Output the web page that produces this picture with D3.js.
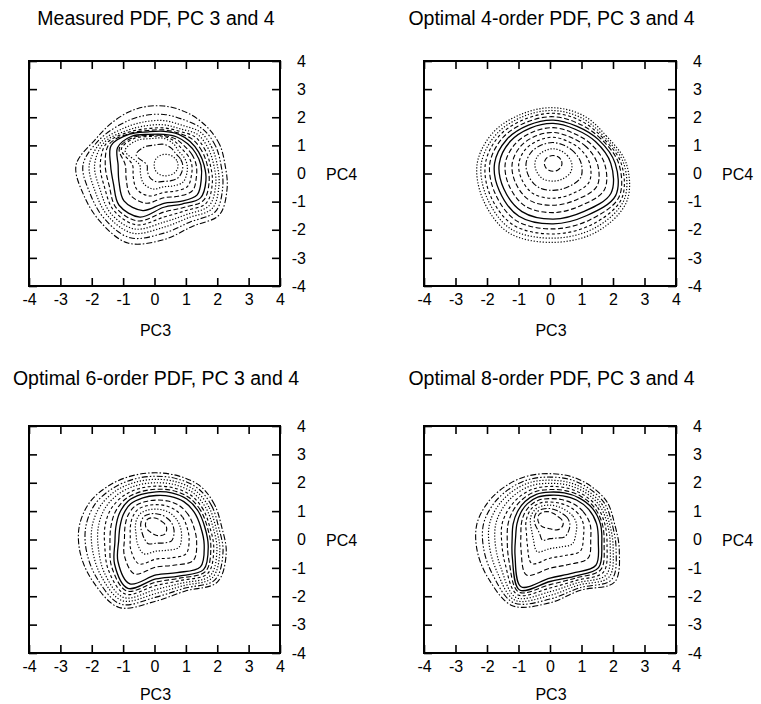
<!DOCTYPE html>
<html>
<head>
<meta charset="utf-8">
<script src="https://cdn.jsdelivr.net/npm/d3@7"></script>
<style>
  body { margin: 0; background: #fff; }
  svg { display: block; }
</style>
</head>
<body>
<svg id="chart" width="761" height="704"></svg>
<script>
// -- Data --
const ticks = [-4, -3, -2, -1, 0, 1, 2, 3, 4];
const titles = [
  "Measured PDF, PC 3 and 4",
  "Optimal 4-order PDF, PC 3 and 4",
  "Optimal 6-order PDF, PC 3 and 4",
  "Optimal 8-order PDF, PC 3 and 4"
];
const xLabel = "PC3";
const yLabel = "PC4";

// Each contour: radii (PC units) on evenly spaced rays around the panel centre,
// listed from the outermost level to the innermost one.
const measuredCenter = [0.3, 0.3];
const measuredStyles = ["dashdot", "dashdot2", "dot", "dot", "short", "dash", "solid", "solid", "dash", "short", "dot", "dashdot", "dot"];
const measuredRadii = [
  [1.95, 1.92, 1.93, 2.00, 2.10, 2.18, 2.23, 2.37, 2.80, 2.77, 2.86, 3.00, 2.65, 2.36, 2.50, 2.18],
  [1.82, 1.78, 1.78, 1.73, 1.80, 1.88, 2.01, 2.26, 2.58, 2.56, 2.69, 2.80, 2.42, 2.19, 2.33, 2.03],
  [1.70, 1.65, 1.65, 1.53, 1.58, 1.66, 1.84, 2.16, 2.38, 2.38, 2.54, 2.62, 2.21, 2.03, 2.18, 1.90],
  [1.59, 1.53, 1.53, 1.39, 1.43, 1.51, 1.72, 2.07, 2.21, 2.21, 2.41, 2.46, 2.03, 1.90, 2.04, 1.79],
  [1.48, 1.42, 1.41, 1.30, 1.32, 1.40, 1.64, 1.99, 2.03, 2.05, 2.27, 2.30, 1.85, 1.76, 1.91, 1.67],
  [1.38, 1.31, 1.29, 1.23, 1.25, 1.33, 1.58, 1.90, 1.87, 1.89, 2.15, 2.15, 1.67, 1.63, 1.78, 1.56],
  [1.28, 1.20, 1.18, 1.19, 1.20, 1.28, 1.55, 1.82, 1.70, 1.74, 2.02, 2.00, 1.50, 1.50, 1.65, 1.45],
  [1.18, 1.10, 1.07, 1.08, 1.09, 1.18, 1.45, 1.60, 1.46, 1.55, 1.80, 1.75, 1.36, 1.40, 1.50, 1.29],
  [1.03, 0.97, 0.94, 1.00, 1.05, 1.14, 1.39, 1.54, 1.23, 1.30, 1.51, 1.47, 1.16, 1.20, 1.29, 1.12],
  [0.89, 0.84, 0.81, 0.91, 1.02, 1.10, 1.34, 1.47, 1.00, 1.06, 1.22, 1.19, 0.97, 1.00, 1.07, 0.95],
  [0.74, 0.70, 0.68, 0.81, 0.95, 1.02, 1.23, 1.34, 0.77, 0.81, 0.92, 0.92, 0.77, 0.80, 0.86, 0.79],
  [0.60, 0.57, 0.55, 0.64, 0.74, 0.77, 0.90, 0.96, 0.54, 0.57, 0.63, 0.64, 0.58, 0.60, 0.64, 0.62],
  [0.45, 0.44, 0.42, 0.40, 0.38, 0.36, 0.34, 0.32, 0.31, 0.32, 0.34, 0.36, 0.38, 0.40, 0.43, 0.45]
];

const order4Center = [0.1, 0.36];
const order4Styles = ["dot", "dot", "short", "dash", "solid", "solid", "dash", "dash", "short", "dashdot", "dot", "dash"];
const order4Radii = [
  [2.32, 1.95, 1.95, 1.98, 2.02, 2.20, 2.41, 2.57, 2.84, 2.81, 2.80, 2.70],
  [2.24, 1.88, 1.85, 1.88, 1.92, 2.08, 2.28, 2.43, 2.69, 2.66, 2.65, 2.60],
  [2.16, 1.82, 1.75, 1.78, 1.81, 1.97, 2.15, 2.30, 2.53, 2.51, 2.50, 2.51],
  [2.08, 1.75, 1.63, 1.66, 1.69, 1.84, 2.01, 2.13, 2.35, 2.33, 2.32, 2.41],
  [1.97, 1.67, 1.52, 1.54, 1.57, 1.70, 1.86, 1.97, 2.17, 2.15, 2.14, 2.29],
  [1.83, 1.55, 1.40, 1.42, 1.45, 1.57, 1.71, 1.81, 1.98, 1.98, 1.97, 2.12],
  [1.63, 1.38, 1.25, 1.27, 1.29, 1.39, 1.52, 1.61, 1.76, 1.75, 1.74, 1.88],
  [1.40, 1.20, 1.08, 1.10, 1.12, 1.20, 1.30, 1.38, 1.51, 1.49, 1.49, 1.61],
  [1.16, 1.00, 0.91, 0.93, 0.94, 1.01, 1.09, 1.15, 1.25, 1.24, 1.24, 1.32],
  [0.89, 0.78, 0.73, 0.74, 0.75, 0.80, 0.86, 0.90, 0.97, 0.96, 0.96, 1.01],
  [0.59, 0.53, 0.51, 0.52, 0.52, 0.55, 0.58, 0.60, 0.64, 0.63, 0.63, 0.64],
  [0.28, 0.28, 0.28, 0.28, 0.28, 0.28, 0.28, 0.28, 0.28, 0.28, 0.28, 0.28]
];

const order6Center = [0.05, 0.45];
const order6Styles = ["dashdot", "dashdot2", "dot", "dot", "short", "dash", "solid", "solid", "dash", "short", "dot", "dashdot", "dash"];
const order6Radii = [
  [2.09, 2.02, 2.01, 1.93, 1.90, 1.95, 2.08, 2.28, 2.45, 2.60, 2.80, 3.08, 2.62, 2.45, 2.76, 2.42],
  [1.99, 1.92, 1.90, 1.82, 1.78, 1.82, 1.93, 2.10, 2.24, 2.39, 2.63, 2.95, 2.48, 2.35, 2.65, 2.31],
  [1.90, 1.82, 1.79, 1.71, 1.67, 1.70, 1.80, 1.92, 2.04, 2.19, 2.47, 2.82, 2.35, 2.25, 2.54, 2.20],
  [1.81, 1.72, 1.68, 1.60, 1.55, 1.58, 1.66, 1.75, 1.84, 1.99, 2.32, 2.70, 2.21, 2.15, 2.44, 2.10],
  [1.71, 1.62, 1.57, 1.48, 1.43, 1.45, 1.51, 1.57, 1.63, 1.77, 2.15, 2.57, 2.07, 2.05, 2.33, 1.99],
  [1.63, 1.53, 1.47, 1.38, 1.32, 1.33, 1.38, 1.40, 1.44, 1.59, 2.00, 2.45, 1.95, 1.96, 2.23, 1.89],
  [1.55, 1.45, 1.38, 1.29, 1.23, 1.23, 1.27, 1.26, 1.28, 1.42, 1.87, 2.35, 1.84, 1.88, 2.14, 1.80],
  [1.42, 1.32, 1.25, 1.16, 1.10, 1.10, 1.14, 1.13, 1.15, 1.29, 1.72, 2.18, 1.70, 1.75, 2.00, 1.66],
  [1.20, 1.11, 1.05, 0.98, 0.94, 0.95, 0.99, 0.98, 0.99, 1.09, 1.43, 1.80, 1.42, 1.47, 1.68, 1.40],
  [0.98, 0.91, 0.85, 0.80, 0.78, 0.80, 0.84, 0.82, 0.82, 0.89, 1.14, 1.42, 1.14, 1.19, 1.35, 1.14],
  [0.77, 0.70, 0.66, 0.63, 0.62, 0.64, 0.68, 0.67, 0.66, 0.69, 0.84, 1.03, 0.86, 0.90, 1.03, 0.88],
  [0.55, 0.50, 0.46, 0.45, 0.46, 0.49, 0.53, 0.51, 0.49, 0.49, 0.55, 0.65, 0.58, 0.62, 0.70, 0.62],
  [0.33, 0.29, 0.26, 0.27, 0.30, 0.34, 0.38, 0.36, 0.33, 0.29, 0.26, 0.27, 0.30, 0.34, 0.38, 0.36]
];

const order8Center = [0.0, 0.55];
const order8Styles = ["dashdot", "dashdot2", "dot", "dot", "short", "dash", "solid", "solid", "dash", "short", "dot", "dashdot", "dash"];
const order8Radii = [
  [2.05, 1.97, 1.86, 1.80, 1.77, 1.83, 1.93, 2.10, 2.32, 2.50, 2.75, 3.12, 2.78, 2.53, 2.90, 2.38],
  [1.97, 1.88, 1.76, 1.69, 1.65, 1.70, 1.78, 1.92, 2.11, 2.28, 2.56, 3.01, 2.65, 2.44, 2.77, 2.27],
  [1.89, 1.79, 1.66, 1.58, 1.54, 1.59, 1.65, 1.76, 1.92, 2.08, 2.38, 2.91, 2.52, 2.34, 2.65, 2.17],
  [1.82, 1.70, 1.57, 1.48, 1.43, 1.47, 1.51, 1.59, 1.72, 1.88, 2.20, 2.81, 2.39, 2.25, 2.53, 2.07],
  [1.74, 1.61, 1.47, 1.37, 1.32, 1.34, 1.36, 1.41, 1.52, 1.66, 2.01, 2.70, 2.26, 2.16, 2.40, 1.96],
  [1.66, 1.52, 1.38, 1.27, 1.21, 1.23, 1.23, 1.26, 1.33, 1.47, 1.84, 2.60, 2.14, 2.07, 2.28, 1.86],
  [1.60, 1.45, 1.30, 1.18, 1.12, 1.13, 1.12, 1.12, 1.17, 1.30, 1.69, 2.52, 2.03, 2.00, 2.18, 1.78],
  [1.48, 1.33, 1.19, 1.07, 1.01, 1.02, 1.01, 1.01, 1.05, 1.18, 1.57, 2.40, 1.91, 1.88, 2.06, 1.66],
  [1.27, 1.14, 1.02, 0.93, 0.89, 0.91, 0.90, 0.89, 0.91, 1.00, 1.30, 1.95, 1.56, 1.55, 1.71, 1.40],
  [1.06, 0.96, 0.86, 0.79, 0.77, 0.80, 0.80, 0.77, 0.77, 0.81, 1.02, 1.51, 1.21, 1.21, 1.36, 1.15],
  [0.84, 0.77, 0.69, 0.66, 0.66, 0.68, 0.69, 0.66, 0.62, 0.63, 0.75, 1.06, 0.87, 0.88, 1.00, 0.89],
  [0.63, 0.59, 0.53, 0.52, 0.54, 0.57, 0.59, 0.54, 0.48, 0.44, 0.47, 0.62, 0.52, 0.54, 0.65, 0.64],
  [0.42, 0.40, 0.36, 0.38, 0.42, 0.46, 0.48, 0.42, 0.34, 0.26, 0.20, 0.17, 0.17, 0.21, 0.30, 0.38]
];

// -- Layout --
const frames = [
  { left: 29,  right: 280, top: 61,  bottom: 286, titleY: 25,  xLabelY: 336 },
  { left: 424, right: 676, top: 61,  bottom: 286, titleY: 25,  xLabelY: 336 },
  { left: 29,  right: 280, top: 426, bottom: 653, titleY: 385, xLabelY: 700 },
  { left: 424, right: 676, top: 426, bottom: 653, titleY: 385, xLabelY: 700 }
];

const panels = [
  { center: measuredCenter, styles: measuredStyles, radii: measuredRadii },
  { center: order4Center, styles: order4Styles, radii: order4Radii },
  { center: order6Center, styles: order6Styles, radii: order6Radii },
  { center: order8Center, styles: order8Styles, radii: order8Radii }
];

// gnuplot-like monochrome line types
const lineTypes = {
  solid:    { dash: null,                  width: 1.3 },
  dash:     { dash: "5,2.5",               width: 1.1 },
  short:    { dash: "3,2.5",               width: 1.1 },
  dot:      { dash: "1.2,1.8",             width: 1.2 },
  dashdot:  { dash: "6,2,1.5,2",           width: 1.1 },
  dashdot2: { dash: "6,2,1.5,2,1.5,2",     width: 1.1 }
};

const FONT = "'Liberation Sans', Arial, Helvetica, sans-serif";
const svg = d3.select("#chart");

// Turn a list of radii into closed ring points (data units).
function ringPoints(center, radii) {
  const n = radii.length;
  return radii.map((r, i) => {
    const a = i * 2 * Math.PI / n;
    return [center[0] + r * Math.cos(a), center[1] + r * Math.sin(a)];
  });
}

function styleAxis(g) {
  g.select(".domain").remove();
  g.selectAll(".tick line").attr("stroke", "#000").attr("stroke-width", 1.6);
  g.attr("font-size", 16).attr("font-family", FONT);
  g.selectAll(".tick text").attr("fill", "#000");
}

panels.forEach((p, idx) => {
  const f = frames[idx];
  const x = d3.scaleLinear().domain([-4, 4]).range([f.left, f.right]);
  const y = d3.scaleLinear().domain([-4, 4]).range([f.bottom, f.top]);
  const g = svg.append("g");

  // Clip contours to the frame.
  const clipId = "clip-" + idx;
  g.append("clipPath").attr("id", clipId)
    .append("rect")
    .attr("x", f.left).attr("y", f.top)
    .attr("width", f.right - f.left).attr("height", f.bottom - f.top);

  const line = d3.line()
    .x(d => x(d[0]))
    .y(d => y(d[1]))
    .curve(d3.curveCatmullRomClosed.alpha(0.5));

  g.append("g")
    .attr("clip-path", `url(#${clipId})`)
    .selectAll("path")
    .data(p.radii)
    .join("path")
    .attr("d", r => line(ringPoints(p.center, r)))
    .attr("fill", "none")
    .attr("stroke", "#000")
    .attr("stroke-width", (r, i) => lineTypes[p.styles[i]].width)
    .attr("stroke-dasharray", (r, i) => lineTypes[p.styles[i]].dash);

  // Axes: ticks point inward on all four sides, labels bottom and right.
  const fmt = d => String(d);

  g.append("g")
    .attr("transform", `translate(0,${f.bottom})`)
    .call(d3.axisBottom(x).tickValues(ticks).tickFormat(fmt)
      .tickSizeInner(-8).tickSizeOuter(0).tickPadding(8))
    .call(styleAxis);

  g.append("g")
    .attr("transform", `translate(0,${f.top})`)
    .call(d3.axisTop(x).tickValues(ticks).tickFormat("")
      .tickSizeInner(-8).tickSizeOuter(0))
    .call(styleAxis);

  g.append("g")
    .attr("transform", `translate(${f.left},0)`)
    .call(d3.axisLeft(y).tickValues(ticks).tickFormat("")
      .tickSizeInner(-8).tickSizeOuter(0))
    .call(styleAxis);

  const right = g.append("g")
    .attr("transform", `translate(${f.right},0)`)
    .call(d3.axisRight(y).tickValues(ticks).tickFormat(fmt)
      .tickSizeInner(-8).tickSizeOuter(0))
    .call(styleAxis);
  right.selectAll(".tick text").attr("x", 26).attr("text-anchor", "end");

  // Frame
  g.append("rect")
    .attr("x", f.left).attr("y", f.top)
    .attr("width", f.right - f.left).attr("height", f.bottom - f.top)
    .attr("fill", "none").attr("stroke", "#000").attr("stroke-width", 2);

  // Texts
  g.append("text")
    .attr("x", (f.left + f.right) / 2 + 1.5)
    .attr("y", f.titleY)
    .attr("text-anchor", "middle")
    .attr("font-family", FONT).attr("font-size", 19.5)
    .text(titles[idx]);

  g.append("text")
    .attr("x", (f.left + f.right) / 2 + 1)
    .attr("y", f.xLabelY)
    .attr("text-anchor", "middle")
    .attr("font-family", FONT).attr("font-size", 16)
    .text(xLabel);

  g.append("text")
    .attr("x", f.right + 46)
    .attr("y", y(0) + 6)
    .attr("font-family", FONT).attr("font-size", 16)
    .text(yLabel);
});
</script>
</body>
</html>
